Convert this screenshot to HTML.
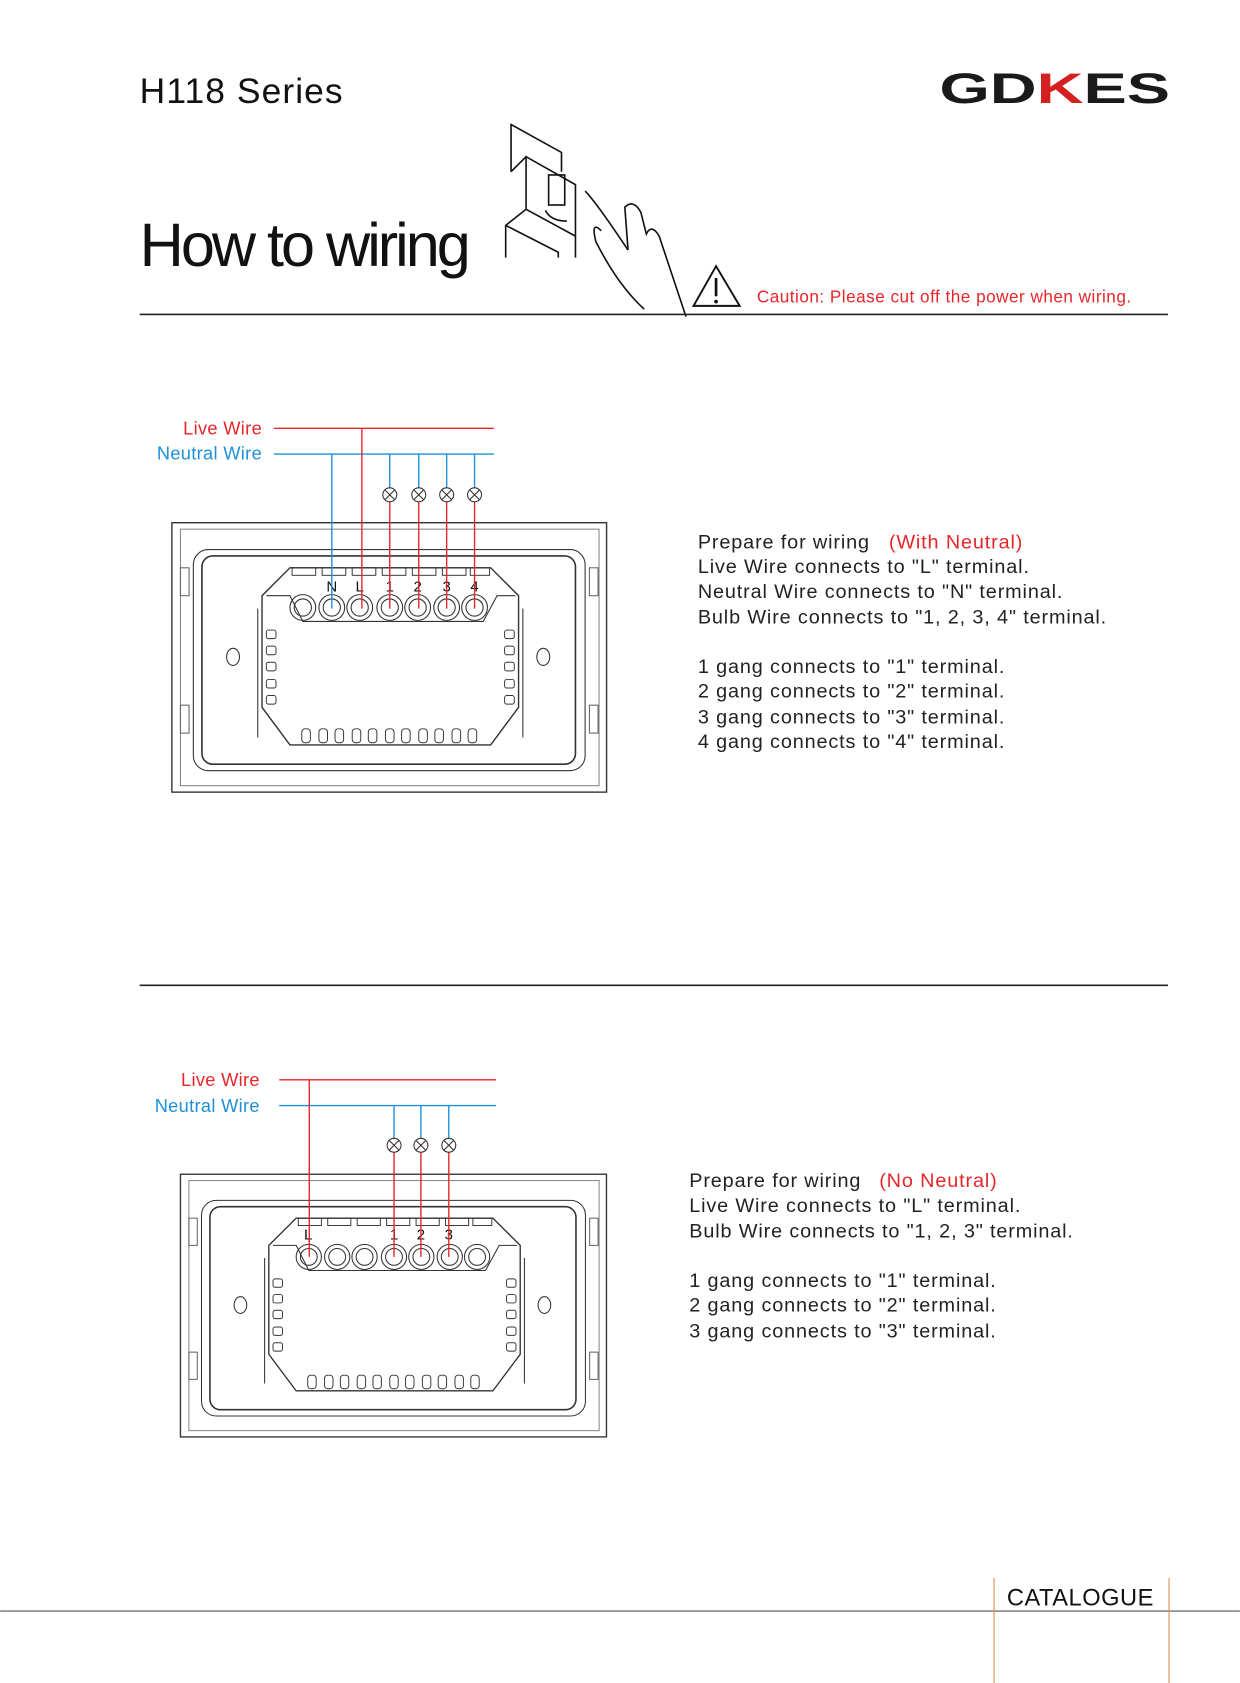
<!DOCTYPE html>
<html><head><meta charset="utf-8"><style>
html,body{margin:0;padding:0;background:#fff}
svg{display:block}
text{font-family:"Liberation Sans",sans-serif}
</style></head><body>
<svg width="1240" height="1683" viewBox="0 0 1155 1568" xmlns="http://www.w3.org/2000/svg">
<defs>
<g id="plate" fill="none" stroke="#333" stroke-width="1">
  <rect x="0" y="0" width="405" height="251" stroke-width="1.3"/>
  <rect x="8" y="6" width="390" height="239" stroke="#888"/>
  <rect x="20" y="25" width="365" height="206" rx="14"/>
  <rect x="28" y="31" width="348" height="194" rx="10" stroke-width="1.5"/>
  <rect x="8" y="42" width="8" height="26" stroke="#666"/><rect x="8" y="170" width="8" height="26" stroke="#666"/>
  <rect x="389" y="42" width="8" height="26" stroke="#666"/><rect x="389" y="170" width="8" height="26" stroke="#666"/>
  <polygon points="110,42 297,42 323,68 323,172 297,207 110,207 84,172 84,68" stroke-width="1.3"/>
  <line x1="80" y1="80" x2="80" y2="200"/><line x1="327" y1="80" x2="327" y2="200"/>
  <g stroke-width="0.9">
    <rect x="112" y="42" width="22" height="7"/><rect x="140" y="42" width="22" height="7"/><rect x="168" y="42" width="22" height="7"/>
    <rect x="196" y="42" width="22" height="7"/><rect x="224" y="42" width="22" height="7"/><rect x="252" y="42" width="22" height="7"/><rect x="278" y="42" width="18" height="7"/>
  </g>
  <polyline points="88,68 110,68 122,92 290,92 303,68 320,68"/>
  <g stroke-width="1">
    <circle cx="122" cy="79" r="12"/><circle cx="122" cy="79" r="8"/>
    <circle cx="149" cy="79" r="12"/><circle cx="149" cy="79" r="8"/>
    <circle cx="175" cy="79" r="12"/><circle cx="175" cy="79" r="8"/>
    <circle cx="203" cy="79" r="12"/><circle cx="203" cy="79" r="8"/>
    <circle cx="229" cy="79" r="12"/><circle cx="229" cy="79" r="8"/>
    <circle cx="256" cy="79" r="12"/><circle cx="256" cy="79" r="8"/>
    <circle cx="282" cy="79" r="12"/><circle cx="282" cy="79" r="8"/>
  </g>
  <g stroke-width="0.9">
    <rect x="88" y="100" width="9" height="8" rx="2"/><rect x="88" y="115" width="9" height="8" rx="2"/><rect x="88" y="130" width="9" height="8" rx="2"/><rect x="88" y="146" width="9" height="8" rx="2"/><rect x="88" y="161" width="9" height="8" rx="2"/>
    <rect x="310" y="100" width="9" height="8" rx="2"/><rect x="310" y="115" width="9" height="8" rx="2"/><rect x="310" y="130" width="9" height="8" rx="2"/><rect x="310" y="146" width="9" height="8" rx="2"/><rect x="310" y="161" width="9" height="8" rx="2"/>
    <rect x="121" y="192" width="8" height="13" rx="3"/><rect x="137" y="192" width="8" height="13" rx="3"/><rect x="152" y="192" width="8" height="13" rx="3"/><rect x="168" y="192" width="8" height="13" rx="3"/><rect x="183" y="192" width="8" height="13" rx="3"/><rect x="199" y="192" width="8" height="13" rx="3"/><rect x="214" y="192" width="8" height="13" rx="3"/><rect x="230" y="192" width="8" height="13" rx="3"/><rect x="245" y="192" width="8" height="13" rx="3"/><rect x="261" y="192" width="8" height="13" rx="3"/><rect x="276" y="192" width="8" height="13" rx="3"/>
  </g>
  <ellipse cx="57" cy="125" rx="6" ry="8"/><ellipse cx="346" cy="125" rx="6" ry="8"/>
</g>
<g id="bulb" fill="#fff" stroke="#333" stroke-width="1"><circle r="6.5"/><path d="M-4.6,-4.6L4.6,4.6M-4.6,4.6L4.6,-4.6"/></g>
</defs>

<!-- header -->
<text x="130" y="96" font-size="33" fill="#111" letter-spacing="1">H118 Series</text>
<text x="875" y="96" font-size="40" font-weight="bold" fill="#1a1a1a" textLength="215" lengthAdjust="spacingAndGlyphs">GD<tspan fill="#d42020">K</tspan>ES</text>
<text x="130" y="248" font-size="57" fill="#111" letter-spacing="-2.8">How to wiring</text>

<!-- breaker -->
<g fill="none" stroke="#111" stroke-width="1.5">
  <polyline points="476,160 476,116 523,142 523,160"/>
  <polyline points="490,195 490,146 536,172 536,240"/>
  <polyline points="476,160 490,146"/>
  <polyline points="471,240 471,210 490,195 536,220"/>
  <polyline points="471,210 520,235 520,240"/>
  <rect x="511" y="163" width="15" height="28"/>
  <path d="M508,196 q5,10 20,10"/>
  <path d="M545,178 q10,10 40,55 M560,215 q-10,-10 -5,10 q20,40 45,63 M585,233 l-3,-40 q8,-8 15,5 l5,20 q5,-10 12,2 l25,75"/>
</g>
<g fill="none" stroke="#111" stroke-width="1.8">
  <polygon points="667,248 646,285 689,285"/>
</g>
<line x1="667" y1="259" x2="667" y2="276" stroke="#111" stroke-width="2.5"/>
<circle cx="667" cy="281" r="1.7" fill="#111"/>
<text x="705" y="282" font-size="16" fill="#e8262a" letter-spacing="0.45">Caution: Please cut off the power when wiring.</text>
<line x1="130" y1="293" x2="1088" y2="293" stroke="#222" stroke-width="1.5"/>

<!-- diagram 1 -->
<use href="#plate" x="160" y="487"/>
<g font-size="14" fill="#111" text-anchor="middle">
  <text x="309" y="551">N</text><text x="335" y="551">L</text><text x="363" y="551">1</text><text x="389" y="551">2</text><text x="416" y="551">3</text><text x="442" y="551">4</text>
</g>
<text x="244" y="405" font-size="17" fill="#e8262a" text-anchor="end" letter-spacing="0.3">Live Wire</text>
<text x="244" y="428" font-size="17" fill="#1e90d8" text-anchor="end" letter-spacing="0.3">Neutral Wire</text>
<g stroke-width="1.3" fill="none">
  <line x1="255" y1="399" x2="460" y2="399" stroke="#e8262a"/>
  <line x1="255" y1="423" x2="460" y2="423" stroke="#1e90d8"/>
  <line x1="309" y1="423" x2="309" y2="567" stroke="#1e90d8"/>
  <line x1="337" y1="399" x2="337" y2="567" stroke="#e8262a"/>
  <path d="M363,423V455M390,423V455M416,423V455M442,423V455" stroke="#1e90d8"/>
  <path d="M363,467V567M390,467V567M416,467V567M442,467V567" stroke="#e8262a"/>
</g>
<use href="#bulb" x="363" y="461"/><use href="#bulb" x="390" y="461"/><use href="#bulb" x="416" y="461"/><use href="#bulb" x="442" y="461"/>

<g font-size="18.5" fill="#222" letter-spacing="0.8">
  <text x="650" y="511">Prepare for wiring <tspan x="828" fill="#e8262a">(With Neutral)</tspan></text>
  <text x="650" y="534">Live Wire connects to "L" terminal.</text>
  <text x="650" y="557">Neutral Wire connects to "N" terminal.</text>
  <text x="650" y="581">Bulb Wire connects to "1, 2, 3, 4" terminal.</text>
  <text x="650" y="627">1 gang connects to "1" terminal.</text>
  <text x="650" y="650">2 gang connects to "2" terminal.</text>
  <text x="650" y="674">3 gang connects to "3" terminal.</text>
  <text x="650" y="697">4 gang connects to "4" terminal.</text>
</g>

<line x1="130" y1="918" x2="1088" y2="918" stroke="#222" stroke-width="1.5"/>

<!-- diagram 2 -->
<use href="#plate" transform="translate(168,1094) scale(0.98,0.975)"/>
<g font-size="14" fill="#111" text-anchor="middle">
  <text x="287" y="1155">L</text><text x="367" y="1155">1</text><text x="392" y="1155">2</text><text x="418" y="1155">3</text>
</g>
<text x="242" y="1012" font-size="17" fill="#e8262a" text-anchor="end" letter-spacing="0.3">Live Wire</text>
<text x="242" y="1036" font-size="17" fill="#1e90d8" text-anchor="end" letter-spacing="0.3">Neutral Wire</text>
<g stroke-width="1.3" fill="none">
  <line x1="260" y1="1006" x2="462" y2="1006" stroke="#e8262a"/>
  <line x1="260" y1="1030" x2="462" y2="1030" stroke="#1e90d8"/>
  <line x1="288" y1="1006" x2="288" y2="1171" stroke="#e8262a"/>
  <path d="M367,1030V1061M392,1030V1061M418,1030V1061" stroke="#1e90d8"/>
  <path d="M367,1073V1171M392,1073V1171M418,1073V1171" stroke="#e8262a"/>
</g>
<use href="#bulb" x="367" y="1067"/><use href="#bulb" x="392" y="1067"/><use href="#bulb" x="418" y="1067"/>

<g font-size="18.5" fill="#222" letter-spacing="0.8">
  <text x="642" y="1106">Prepare for wiring <tspan x="819" fill="#e8262a">(No Neutral)</tspan></text>
  <text x="642" y="1129">Live Wire connects to "L" terminal.</text>
  <text x="642" y="1153">Bulb Wire connects to "1, 2, 3" terminal.</text>
  <text x="642" y="1199">1 gang connects to "1" terminal.</text>
  <text x="642" y="1222">2 gang connects to "2" terminal.</text>
  <text x="642" y="1246">3 gang connects to "3" terminal.</text>
</g>

<!-- footer -->
<line x1="0" y1="1501" x2="1155" y2="1501" stroke="#555" stroke-width="1"/>
<line x1="926" y1="1470" x2="926" y2="1568" stroke="#e0894a" stroke-width="1"/>
<line x1="1089" y1="1470" x2="1089" y2="1568" stroke="#e0894a" stroke-width="1"/>
<text x="938" y="1496" font-size="22" fill="#111" letter-spacing="0.5">CATALOGUE</text>
</svg>
</body></html>
